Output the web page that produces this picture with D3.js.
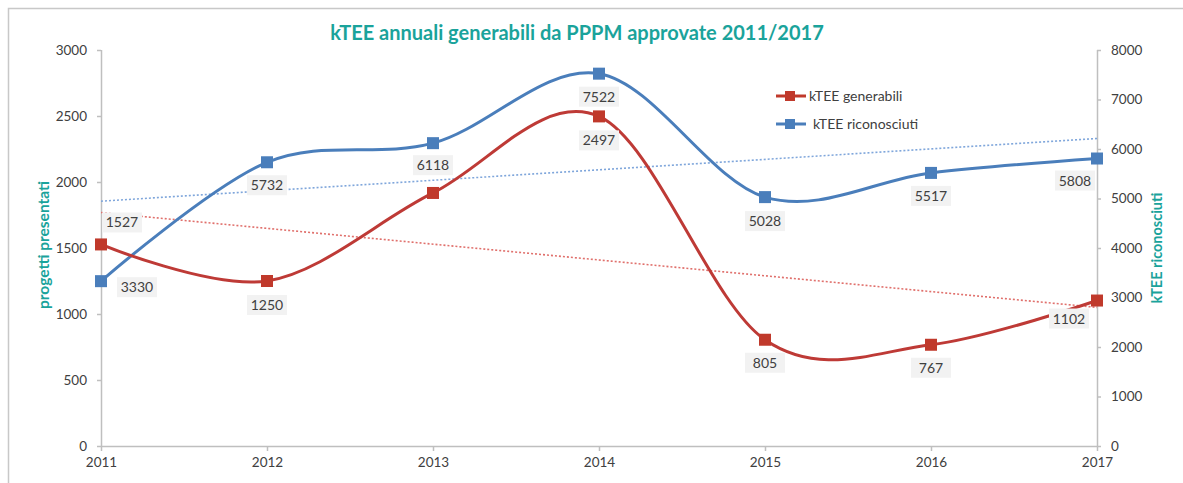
<!DOCTYPE html>
<html>
<head>
<meta charset="utf-8">
<script src="https://cdn.jsdelivr.net/npm/d3@7"></script>
<style>
  body { margin: 0; background: white; }
  svg { display: block; font-family: Lato, "Open Sans", sans-serif; }
</style>
</head>
<body>
<div id="chart"></div>
<script>
let w = 1183;
let h = 483;

// data
const years = [2011, 2012, 2013, 2014, 2015, 2016, 2017];
const generabili = [1527, 1250, 1917, 2497, 805, 767, 1102];
const riconosciuti = [3330, 5732, 6118, 7522, 5028, 5517, 5808];
const showGenLabel = [true, true, false, true, true, true, true];
const leftTicks = [0, 500, 1000, 1500, 2000, 2500, 3000];
const rightTicks = [0, 1000, 2000, 3000, 4000, 5000, 6000, 7000, 8000];

// label offsets from the marker (layout only)
const genOffsets = [[21, -22], [0, 24], [0, 24], [0, 24], [0, 23], [0, 23], [-28, 18]];
const ricOffsets = [[36, 6], [0, 23], [0, 22], [0, 23], [0, 24], [0, 23], [-22, 22]];

const red = "#c0392b";
const redLine = "#be3a36";
const blue = "#4a7ebb";
const teal = "#1aa39b";
const axisCol = "#bfbfbf";
const textCol = "#404040";

let svg = d3.select("#chart")
  .append("svg")
  .attr("width", w)
  .attr("height", h);

// frame
svg.append("rect")
  .attr("x", 8.5).attr("y", 8.5)
  .attr("width", w).attr("height", h)
  .attr("fill", "white")
  .attr("stroke", "#c8c8c8")
  .attr("stroke-width", 1.5);

let x = d3.scaleLinear().domain([2011, 2017]).range([101, 1097]);
let yL = d3.scaleLinear().domain([0, 3000]).range([446, 50]);
let yR = d3.scaleLinear().domain([0, 8000]).range([446, 50]);

// title
svg.append("text")
  .attr("x", 577)
  .attr("y", 40)
  .attr("text-anchor", "middle")
  .attr("fill", teal)
  .attr("font-size", 20)
  .attr("font-weight", 700)
  .text("kTEE annuali generabili da PPPM approvate 2011/2017");

// axes
let xAxis = svg.append("g")
  .attr("transform", "translate(0,446)")
  .call(d3.axisBottom(x).tickValues(years).tickFormat(d3.format("d")).tickSize(5).tickPadding(6));
let leftAxis = svg.append("g")
  .attr("transform", "translate(101,0)")
  .call(d3.axisLeft(yL).tickValues(leftTicks).tickFormat(d3.format("d")).tickSize(4).tickPadding(10));
let rightAxis = svg.append("g")
  .attr("transform", "translate(1097,0)")
  .call(d3.axisRight(yR).tickValues(rightTicks).tickFormat(d3.format("d")).tickSize(4).tickPadding(10));

[xAxis, leftAxis, rightAxis].forEach(g => {
  g.select(".domain").attr("stroke", axisCol).attr("stroke-width", 1.5);
  g.selectAll(".tick line").attr("stroke", axisCol).attr("stroke-width", 1.5);
  g.selectAll(".tick text")
    .attr("fill", textCol)
    .attr("font-size", 13.5)
    .attr("font-family", "Lato, sans-serif");
});
// drop outer ticks of the domain paths
xAxis.select(".domain").attr("d", "M101,0.5H1097");
leftAxis.select(".domain").attr("d", "M0.5,50V446");
rightAxis.select(".domain").attr("d", "M0.5,50V446");

// axis titles
svg.append("text")
  .attr("transform", "translate(49,245) rotate(-90)")
  .attr("text-anchor", "middle")
  .attr("fill", teal)
  .attr("font-size", 15.5)
  .attr("font-weight", 700)
  .text("progetti presentati");

svg.append("text")
  .attr("transform", "translate(1162,248) rotate(-90)")
  .attr("text-anchor", "middle")
  .attr("fill", teal)
  .attr("font-size", 14.5)
  .attr("font-weight", 700)
  .text("kTEE riconosciuti");

// linear trend lines
function trend(vals) {
  let mx = d3.mean(years);
  let my = d3.mean(vals);
  let num = d3.sum(years, (yr, i) => (yr - mx) * (vals[i] - my));
  let den = d3.sum(years, yr => (yr - mx) * (yr - mx));
  let b = num / den;
  return yr => my + b * (yr - mx);
}
let tGen = trend(generabili);
let tRic = trend(riconosciuti);

svg.append("line")
  .attr("x1", x(2011)).attr("x2", x(2017))
  .attr("y1", yL(tGen(2011))).attr("y2", yL(tGen(2017)))
  .attr("stroke", "#e0706c")
  .attr("stroke-width", 1.6)
  .attr("stroke-dasharray", "2,2");

svg.append("line")
  .attr("x1", x(2011)).attr("x2", x(2017))
  .attr("y1", yR(tRic(2011))).attr("y2", yR(tRic(2017)))
  .attr("stroke", "#7fa6db")
  .attr("stroke-width", 1.6)
  .attr("stroke-dasharray", "2,2");

// smoothed lines
let genLine = d3.line()
  .x((d, i) => x(years[i]))
  .y(d => yL(d))
  .curve(d3.curveCatmullRom.alpha(0));
let ricLine = d3.line()
  .x((d, i) => x(years[i]))
  .y(d => yR(d))
  .curve(d3.curveCatmullRom.alpha(0));

svg.append("path")
  .attr("d", ricLine(riconosciuti))
  .attr("fill", "none")
  .attr("stroke", blue)
  .attr("stroke-width", 3);

svg.append("path")
  .attr("d", genLine(generabili))
  .attr("fill", "none")
  .attr("stroke", redLine)
  .attr("stroke-width", 3);

// markers
const ms = 12;
svg.selectAll("rect.ric")
  .data(riconosciuti)
  .join("rect")
  .attr("class", "ric")
  .attr("x", (d, i) => x(years[i]) - ms / 2)
  .attr("y", d => yR(d) - ms / 2)
  .attr("width", ms).attr("height", ms)
  .attr("fill", blue);

svg.selectAll("rect.gen")
  .data(generabili)
  .join("rect")
  .attr("class", "gen")
  .attr("x", (d, i) => x(years[i]) - ms / 2)
  .attr("y", d => yL(d) - ms / 2)
  .attr("width", ms).attr("height", ms)
  .attr("fill", red);

// data labels
function addLabels(vals, scale, offsets, show) {
  let g = svg.append("g");
  vals.forEach((v, i) => {
    if (show && !show[i]) return;
    let cx = x(years[i]) + offsets[i][0];
    let cy = scale(v) + offsets[i][1];
    g.append("rect")
      .attr("x", cx - 20).attr("y", cy - 10)
      .attr("width", 40).attr("height", 20)
      .attr("fill", "#f2f2f2");
    g.append("text")
      .attr("x", cx).attr("y", cy)
      .attr("dy", "0.36em")
      .attr("text-anchor", "middle")
      .attr("fill", textCol)
      .attr("font-size", 14)
      .text(v);
  });
}
addLabels(riconosciuti, yR, ricOffsets, null);
addLabels(generabili, yL, genOffsets, showGenLabel);

// legend
let legend = svg.append("g")
  .selectAll("g")
  .data([["kTEE generabili", red], ["kTEE riconosciuti", blue]])
  .join("g")
  .attr("transform", (d, i) => `translate(776, ${96 + i * 28})`);

legend.append("line")
  .attr("x1", 0).attr("x2", 30)
  .attr("stroke", d => d[1])
  .attr("stroke-width", 3);
legend.append("rect")
  .attr("x", 9).attr("y", -5)
  .attr("width", 10).attr("height", 10)
  .attr("fill", d => d[1]);
legend.append("text")
  .attr("x", (d, i) => i == 0 ? 33 : 37)
  .attr("y", 0)
  .attr("dy", "0.33em")
  .attr("fill", textCol)
  .attr("font-size", 14)
  .text(d => d[0]);
</script>
</body>
</html>
